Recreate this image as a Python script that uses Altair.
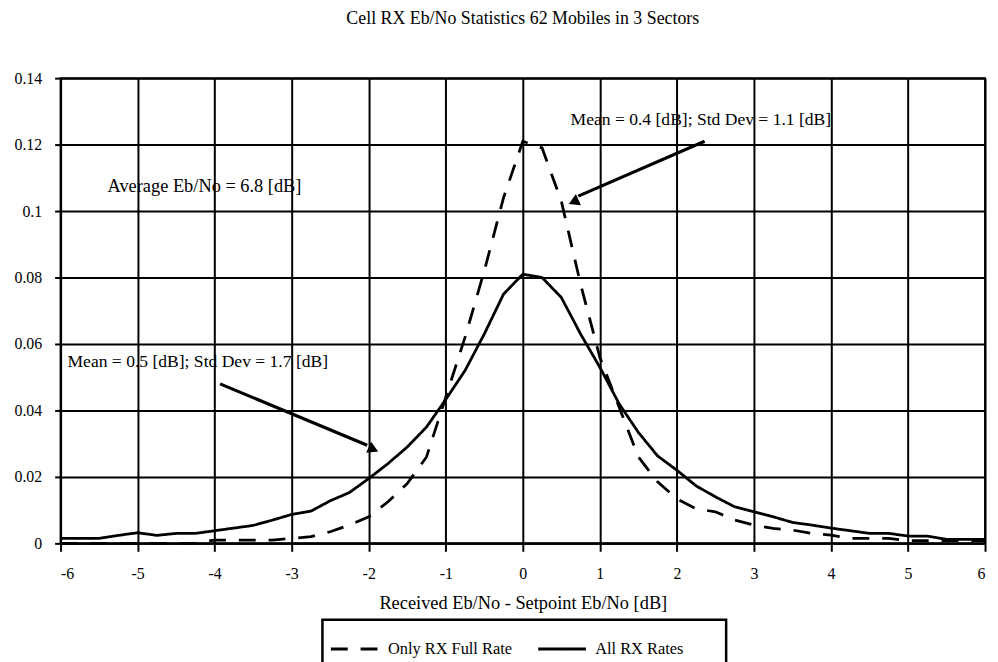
import altair as alt
import pandas as pd

# x positions (dB), 0.25 dB step
x_vals = [-6 + 0.25 * i for i in range(49)]

only_full_rate = [0, 0, 0, 0, 0, 0, 0, 0, 0.001, 0.001, 0.001, 0.001, 0.0015, 0.002,
                  0.0035, 0.0055, 0.008, 0.0125, 0.018, 0.026, 0.044, 0.062, 0.082, 0.104,
                  0.121, 0.119, 0.103, 0.078, 0.056, 0.041, 0.026, 0.0185, 0.0134, 0.0104,
                  0.0095, 0.007, 0.0055, 0.0045, 0.004, 0.003, 0.0025, 0.0015, 0.0015, 0.0015,
                  0.0008, 0.0008, 0.0008, 0.0008, 0.0008]

all_rates = [0.0015, 0.0015, 0.0015, 0.0024, 0.0032, 0.0024, 0.003, 0.003, 0.0038, 0.0046,
             0.0054, 0.007, 0.0087, 0.0097, 0.0128, 0.0153, 0.0195, 0.024, 0.029, 0.035,
             0.0433, 0.052, 0.063, 0.075, 0.081, 0.080, 0.074, 0.063, 0.053, 0.042, 0.0334,
             0.0263, 0.022, 0.0173, 0.014, 0.011, 0.0095, 0.008, 0.0063, 0.0055, 0.0046,
             0.0038, 0.003, 0.003, 0.0022, 0.0022, 0.0012, 0.0012, 0.0012]

series_names = ["Only RX Full Rate", "All RX Rates"]

title_text = "Cell RX Eb/No Statistics 62 Mobiles in 3 Sectors"
x_title = "Received Eb/No - Setpoint Eb/No [dB]"
y_ticks = [0, 0.02, 0.04, 0.06, 0.08, 0.1, 0.12, 0.14]
x_ticks = [-6, -5, -4, -3, -2, -1, 0, 1, 2, 3, 4, 5, 6]

notes = ["Mean = 0.4 [dB]; Std Dev = 1.1 [dB]",
         "Average Eb/No = 6.8 [dB]",
         "Mean = 0.5 [dB]; Std Dev = 1.7 [dB]"]
note_x = [0.62, -5.39, -5.91]
note_y = [0.1275, 0.1075, 0.0545]
note_size = [17.7, 18.5, 17.7]

arrow_x1 = [2.36, -3.93]
arrow_y1 = [0.121, 0.048]
arrow_x2 = [0.72, -2.02]
arrow_y2 = [0.1045, 0.0295]
arrow_tip_x = [0.68, -1.96]
arrow_tip_y = [0.103, 0.0285]
arrow_angle = [246, 114]

FONT = "Liberation Serif"

rows = []
for name, vals in zip(series_names, [only_full_rate, all_rates]):
    for xv, yv in zip(x_vals, vals):
        rows.append({"x": xv, "y": yv, "series": name})
df = pd.DataFrame(rows)

xs = alt.Scale(domain=[-6, 6], nice=False)
ys = alt.Scale(domain=[0, 0.14], nice=False)

lines = alt.Chart(df).mark_line(strokeWidth=2.8, color="black", strokeCap="butt").encode(
    x=alt.X("x:Q", scale=xs, title=x_title,
            axis=alt.Axis(values=x_ticks, labelExpr="'' + datum.value", grid=True)),
    y=alt.Y("y:Q", scale=ys, title=None,
            axis=alt.Axis(values=y_ticks, format="~g", grid=True)),
    strokeDash=alt.StrokeDash("series:N",
                              scale=alt.Scale(domain=series_names, range=[[17, 13], [1, 0]]),
                              legend=alt.Legend(title=" ", titleOrient="right", titlePadding=36,
                                                orient="none", legendX=264, legendY=546,
                                                direction="horizontal")),
    order=alt.Order("x:Q"),
)

notes_df = pd.DataFrame({"t": notes, "x": note_x, "y": note_y, "s": note_size})
texts = alt.Chart(notes_df).mark_text(align="left", baseline="middle", font=FONT,
                                      color="black").encode(
    x=alt.X("x:Q", scale=xs), y=alt.Y("y:Q", scale=ys), text="t:N",
    size=alt.Size("s:Q", scale=None, legend=None))

arr_df = pd.DataFrame({"x": arrow_x1, "y": arrow_y1, "x2": arrow_x2, "y2": arrow_y2,
                       "tx": arrow_tip_x, "ty": arrow_tip_y, "a": arrow_angle})
shafts = alt.Chart(arr_df).mark_rule(strokeWidth=3.2, color="black").encode(
    x=alt.X("x:Q", scale=xs), y=alt.Y("y:Q", scale=ys), x2="x2:Q", y2="y2:Q")
heads = alt.Chart(arr_df).mark_point(shape="triangle", filled=True, color="black",
                                     size=150, opacity=1).encode(
    x=alt.X("tx:Q", scale=xs), y=alt.Y("ty:Q", scale=ys), angle=alt.Angle("a:Q", scale=None))

chart = alt.layer(lines, shafts, heads, texts).properties(
    width=932, height=469,
    title=alt.TitleParams(title_text, font=FONT, fontSize=18, fontWeight="normal",
                          anchor="middle", offset=43, color="black"),
    autosize=alt.AutoSizeParams(type="none"),
    padding={"left": 53, "top": 68, "right": 5, "bottom": 130},
).configure_view(stroke="black", strokeWidth=2).configure_axis(
    domainColor="black", domainWidth=2, gridColor="black", gridWidth=2, gridOpacity=1,
    tickColor="black", tickWidth=2, labelFont=FONT, labelFontSize=16, labelColor="black",
    titleFont=FONT, titleFontSize=18.5, titleFontWeight="normal", titleColor="black",
).configure_axisX(tickSize=8, labelPadding=14, titlePadding=13).configure_axisY(
    tickSize=6, labelPadding=13).configure_legend(
    labelFont=FONT, labelFontSize=16.5, labelColor="black",
    symbolType="M-1,0L1.29,0", symbolStrokeColor="black", symbolStrokeWidth=3,
    symbolSize=1764, strokeColor="black", strokeWidth=2.5,
    padding=7, columnPadding=19, labelOffset=14, fillColor="white",
    titleFont=FONT, titleFontSize=10,
)

chart.save("out.html", embed_options={"renderer": "svg", "actions": False})
